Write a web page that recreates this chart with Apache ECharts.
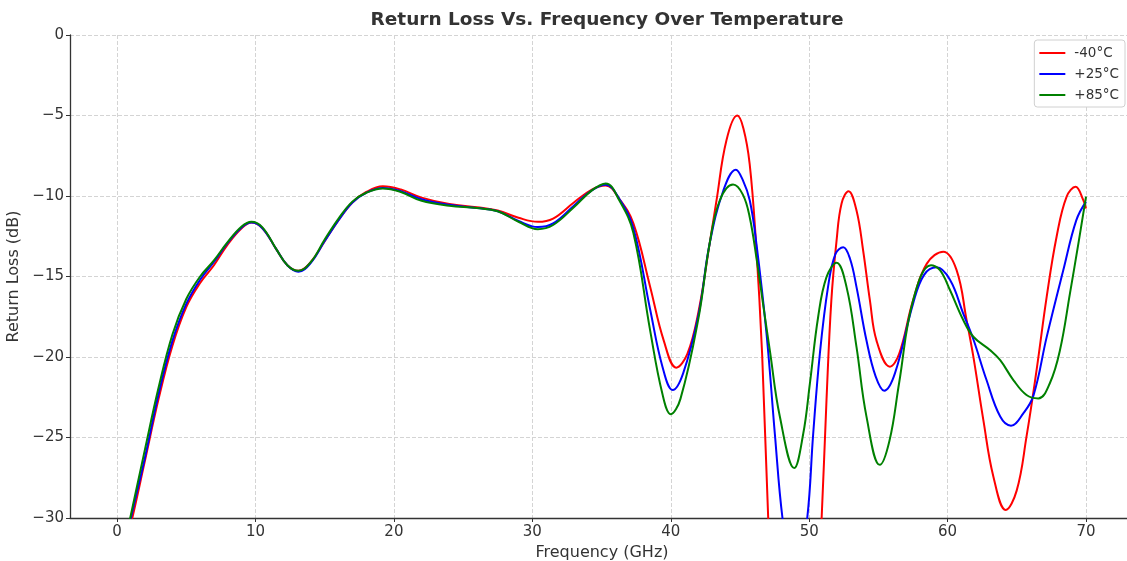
<!DOCTYPE html>
<html>
<head>
<meta charset="utf-8">
<title>Return Loss Vs. Frequency Over Temperature</title>
<script src="https://cdn.jsdelivr.net/npm/echarts@6/dist/echarts.min.js"></script>
<style>
  html, body { margin: 0; padding: 0; background: #fff; }
  #chart { width: 1127px; height: 561px; }
</style>
</head>
<body>
<div id="chart"></div>
<script>
// [frequency GHz, return loss dB]
const lossM40 = [
  [0.5, -32], [1.1, -30], [2, -26.5], [3, -22.6], [4, -19.3], [5, -16.9], [6, -15.4], [7, -14.3],
  [8, -13.0], [9, -12.0], [9.7, -11.65], [10.5, -12.0], [11.5, -13.3], [12.3, -14.3], [13.1, -14.65],
  [14, -14.1], [15, -12.8], [16, -11.5], [17, -10.4], [18, -9.75], [19.2, -9.4], [20.5, -9.6],
  [22, -10.1], [24, -10.5], [26, -10.7], [27.5, -10.9], [29, -11.35], [30.4, -11.6], [31.5, -11.4],
  [33, -10.4], [34.3, -9.6], [35.3, -9.35], [36.3, -10.2], [37.3, -11.7], [38.5, -15.6], [39.5, -19.0],
  [40.4, -20.66], [41.2, -19.8], [42, -17.2], [42.8, -13.0], [43.3, -10.3], [44.02, -6.55], [44.8, -5.0],
  [45.25, -5.8], [45.7, -8.0], [46.15, -12.8], [46.6, -19.8], [47.04, -30], [47.5, -37.5],
  [48.97, -47], [50.4, -38], [50.9, -30], [51.25, -22.7], [51.6, -16.5], [51.98, -12.76],
  [52.34, -10.46], [52.84, -9.7], [53.42, -10.9], [53.9, -13.4], [54.39, -16.5], [54.87, -19.0],
  [55.83, -20.6], [56.5, -19.8], [57.5, -16.5], [58.5, -14.2], [59.69, -13.46], [60.65, -14.6],
  [61.37, -17.7], [61.86, -19.98], [62.58, -23.9], [63.3, -27.4], [64.2, -29.5], [64.99, -28.3],
  [65.7, -24.95], [66.43, -20.8], [67.16, -16.25], [67.88, -12.5], [68.6, -10.04], [69.25, -9.42],
  [69.8, -10.25], [70, -10.77]
];
const lossP25 = [
  [0.5, -32], [1.0, -30], [2, -26.3], [3, -22.3], [4, -19.0], [5, -16.7], [6, -15.2], [7, -14.1],
  [8, -12.9], [9, -11.95], [9.7, -11.65], [10.5, -12.0], [11.5, -13.3], [12.3, -14.3], [13.1, -14.7],
  [14, -14.15], [15, -12.8], [16, -11.5], [17, -10.4], [18, -9.8], [19.2, -9.5], [20.5, -9.7],
  [22, -10.2], [24, -10.55], [26, -10.75], [27.5, -10.95], [29, -11.55], [30.4, -11.93], [31.5, -11.7],
  [33, -10.6], [34.3, -9.65], [35.3, -9.3], [36.3, -10.2], [37.3, -12.0], [38.5, -17], [39.4, -20.6],
  [40.14, -22.05], [40.9, -21.0], [42, -17.4], [42.8, -13.0], [43.8, -9.66], [44.7, -8.37],
  [45.2, -9.0], [45.71, -10.28], [46.19, -12.97], [46.92, -18.56], [47.52, -24.77], [48.07, -30],
  [48.97, -35], [49.86, -30], [50.29, -24.77], [50.77, -19.8], [51.37, -15.6], [51.9, -13.6],
  [52.46, -13.18], [52.95, -13.9], [53.42, -15.66], [54.14, -18.98], [54.8, -21.2], [55.42, -22.09],
  [56.2, -21], [57.5, -16.7], [58.3, -14.9], [59.2, -14.43], [60.17, -15.2], [61.13, -17.3],
  [61.86, -18.9], [62.8, -21.4], [63.8, -23.7], [64.58, -24.27], [65.47, -23.5], [66.2, -22.4],
  [67.16, -18.75], [68.36, -14.6], [69.3, -11.5], [70, -10.35]
];
const lossP85 = [
  [0.5, -31.8], [0.95, -30], [2, -25.8], [3, -21.9], [4, -18.6], [5, -16.4], [6, -15.0], [7, -14.0],
  [8, -12.85], [9, -11.9], [9.7, -11.6], [10.5, -11.95], [11.5, -13.3], [12.3, -14.3], [13.1, -14.65],
  [14, -14.1], [15, -12.7], [16, -11.4], [17, -10.35], [18, -9.8], [19.2, -9.53], [20.5, -9.75],
  [22, -10.3], [24, -10.6], [26, -10.75], [27.5, -10.95], [29, -11.6], [30.4, -12.06], [31.5, -11.8],
  [33, -10.7], [34.3, -9.65], [35.3, -9.22], [36.3, -10.3], [37.3, -12.3], [38.5, -18.3], [39.4, -22.3],
  [40.0, -23.55], [40.7, -22.6], [42, -17.6], [42.8, -13.0], [43.54, -10.28], [44.5, -9.29],
  [45.2, -9.9], [45.7, -11.3], [46.2, -13.9], [46.7, -16.9], [47.16, -19.6], [47.88, -23.7],
  [48.92, -26.9], [49.57, -24.77], [50.05, -21.66], [50.65, -17.5], [51.25, -15.04], [51.98, -14.15],
  [52.7, -15.66], [53.42, -19.39], [54.14, -23.7], [55.1, -26.7], [55.8, -25.2], [56.5, -21.6],
  [57.5, -16.5], [58.8, -14.3], [59.45, -14.6], [60.17, -15.84], [61.13, -17.7], [61.86, -18.74],
  [63.06, -19.57], [63.8, -20.2], [64.75, -21.43], [65.7, -22.36], [66.55, -22.57], [67.4, -21.6],
  [68.12, -19.57], [68.84, -16.05], [69.45, -12.94], [70, -10.04]
];
const seriesNames = ['-40°C', '+25°C', '+85°C'];
const seriesColors = ['#ff0000', '#0000ff', '#008000'];
const seriesData = [lossM40, lossP25, lossP85];

const font = 'DejaVu Sans';
const minusSign = v => String(v).replace('-', '\u2212');

const chart = echarts.init(document.getElementById('chart'));

const option = {
  animation: false,
  backgroundColor: '#fff',
  title: {
    text: 'Return Loss Vs. Frequency Over Temperature',
    left: 602,
    textAlign: 'center',
    top: 6,
    textStyle: { fontFamily: font, fontSize: 18.5, fontWeight: 'bold', color: '#333' }
  },
  legend: {
    orient: 'vertical',
    right: 2,
    top: 40,
    data: seriesNames,
    icon: 'rect',
    itemWidth: 26,
    itemHeight: 2,
    itemGap: 7,
    padding: [6, 6, 5, 5],
    borderColor: '#d0d0d0',
    borderWidth: 1,
    borderRadius: 3,
    backgroundColor: '#fff',
    textStyle: { fontFamily: font, fontSize: 13.5, color: '#333', padding: [0, 0, 0, 4] }
  },
  grid: { left: 70, right: 0, top: 35, bottom: 43, outerBoundsMode: 'none' },
  xAxis: {
    type: 'value',
    min: -3.4,
    max: 72.96,
    splitNumber: 8,
    name: 'Frequency (GHz)',
    nameLocation: 'middle',
    nameGap: 25,
    nameTextStyle: { fontFamily: font, fontSize: 16, color: '#333', padding: [0, 0, 0, 7] },
    axisLine: { onZero: false, lineStyle: { color: '#333', width: 1.3 } },
    axisTick: { length: 4, lineStyle: { color: '#333' } },
    axisLabel: {
      showMinLabel: false,
      showMaxLabel: false,
      margin: 7,
      fontFamily: font,
      fontSize: 15,
      color: '#333',
      formatter: minusSign
    },
    splitLine: { show: true, lineStyle: { color: '#d4d4d4', type: [4, 2], width: 1 } }
  },
  yAxis: {
    type: 'value',
    min: -30,
    max: 0,
    interval: 5,
    name: 'Return Loss (dB)',
    nameLocation: 'middle',
    nameGap: 38,
    nameTextStyle: { fontFamily: font, fontSize: 16, color: '#333' },
    axisLine: { show: true, onZero: false, lineStyle: { color: '#333', width: 1.3 } },
    axisTick: { show: true, length: 4, lineStyle: { color: '#333' } },
    axisLabel: { margin: 6, fontFamily: font, fontSize: 15, color: '#333', formatter: minusSign },
    splitLine: { show: true, lineStyle: { color: '#d4d4d4', type: [4, 2], width: 1 } }
  },
  series: seriesNames.map((name, i) => ({
    name: name,
    type: 'line',
    data: seriesData[i],
    smooth: 0.4,
    showSymbol: false,
    clip: true,
    color: seriesColors[i],
    lineStyle: { width: 2, color: seriesColors[i] }
  }))
};

chart.setOption(option);
</script>
</body>
</html>
